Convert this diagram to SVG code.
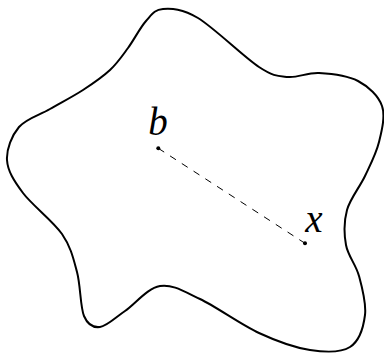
<svg xmlns="http://www.w3.org/2000/svg" width="384" height="353" viewBox="0 0 384 353">
<style>
.outline{fill:none;stroke:#000;stroke-width:2;stroke-linejoin:round}
.conn{fill:none;stroke:#000;stroke-width:1;stroke-dasharray:7 7}
.pt{fill:#000}
.lbl{font-family:"Liberation Serif","Times New Roman",serif;font-style:italic;font-size:39px;fill:#000;text-anchor:middle}
</style>
<rect width="384" height="353" fill="#fff"/>
<g id="region">
<path class="outline" d="M163,9 C171.67,8.5 182,8.33 198,18 C214,27.67 244,57.17 259,67 C274,76.83 278,76 288,77 C298,78 307.33,72.33 319,73 C330.67,73.67 347.5,75.5 358,81 C368.5,86.5 378.5,95.83 382,106 C385.5,116.17 381.83,130.33 379,142 C376.17,153.67 370.33,164.67 365,176 C359.67,187.33 350.17,198.5 347,210 C343.83,221.5 344,234 346,245 C348,256 355.830,264.33 359,276 C362.17,287.67 366.5,303.17 365,315 C363.5,326.83 359.17,341.17 350,347 C340.83,352.83 325.17,352.33 310,350 C294.83,347.67 277.33,341.5 259,333 C240.67,324.5 216.5,306.83 200,299 C183.5,291.17 172.5,284 160,286 C147.5,288 135,304.17 125,311 C115,317.83 106.83,326.17 100,327 C93.17,327.83 87.83,325.17 84,316 C80.17,306.83 80.67,285.67 77,272 C73.33,258.33 71,247.17 62,234 C53,220.83 32.17,205.33 23,193 C13.83,180.67 7.67,171 7,160 C6.33,149 11.83,135.5 19,127 C26.17,118.5 39.33,115.17 50,109 C60.67,102.83 73,96.5 83,90 C93,83.5 102.5,77 110,70 C117.5,63 122,56.17 128,48 C134,39.83 140.17,27.5 146,21 C151.83,14.5 154.33,9.5 163,9 Z"/>
</g>
<g id="connectors">
<line class="conn" x1="158.3" y1="148.3" x2="305" y2="243.3"/>
</g>
<g id="node-b">
<circle class="pt" cx="158.3" cy="148.3" r="2"/>
<text class="lbl" x="158" y="135">b</text>
</g>
<g id="node-x">
<circle class="pt" cx="305" cy="243.3" r="2"/>
<text class="lbl" x="314" y="232">x</text>
</g>
</svg>
